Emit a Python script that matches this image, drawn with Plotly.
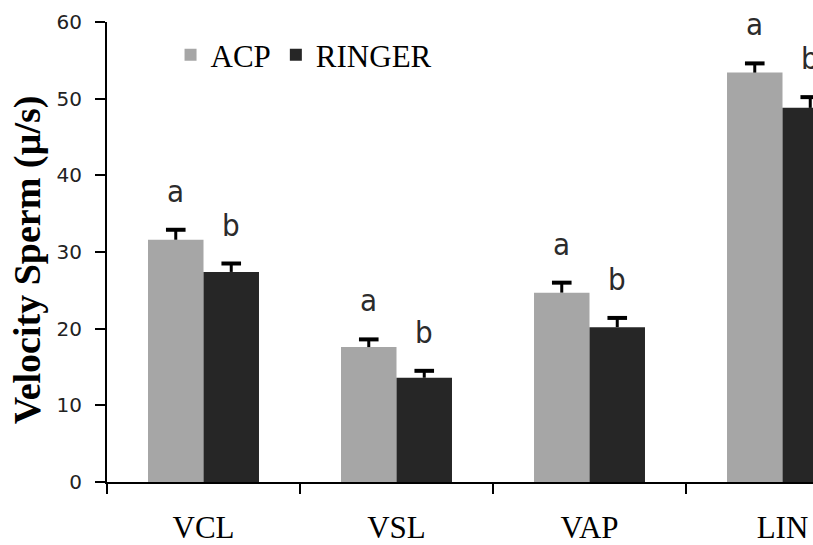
import plotly.graph_objects as go

# Sperm velocity parameters by extender
categories = ["VCL", "VSL", "VAP", "LIN"]
acp_mean = [31.6, 17.6, 24.7, 53.4]
acp_err = [1.3, 1.0, 1.3, 1.2]
ringer_mean = [27.4, 13.6, 20.2, 48.8]
ringer_err = [1.1, 0.9, 1.2, 1.4]
acp_letters = ["a", "a", "a", "a"]
ringer_letters = ["b", "b", "b", "b"]

ACP_COLOR = "#a6a6a6"
RINGER_COLOR = "#262626"
GAP = 0.425

fig = go.Figure()
for name, mean, color in (("ACP", acp_mean, ACP_COLOR),
                          ("RINGER", ringer_mean, RINGER_COLOR)):
    fig.add_trace(go.Bar(name=name, x=categories, y=mean,
                         marker_color=color, marker_line_width=0))

# Upper-only error bars: stem from the bar top, cap drawn as a marker
for mean, err in ((acp_mean, acp_err), (ringer_mean, ringer_err)):
    tops = [m + e for m, e in zip(mean, err)]
    fig.add_trace(go.Scatter(
        x=categories, y=tops, mode="markers", showlegend=False,
        hoverinfo="skip",
        marker=dict(symbol="line-ew", size=14, line=dict(width=4, color="black")),
        error_y=dict(type="data", symmetric=False, array=[0] * len(err),
                     arrayminus=err, color="black", thickness=3, width=0),
    ))

# Significance letters above each error bar
group_width_px = 193.0 * (1 - GAP)
offset = group_width_px / 4
for i, cat in enumerate(categories):
    for mean, err, letters, dx in ((acp_mean, acp_err, acp_letters, -offset),
                                   (ringer_mean, ringer_err, ringer_letters, offset)):
        fig.add_annotation(
            x=i, y=mean[i] + err[i], xref="x", yref="y",
            text=letters[i], showarrow=False, xshift=dx, yshift=39,
            yanchor="middle",
            font=dict(family="DejaVu Sans Condensed", size=31, color="#2b2b2b"),
        )

# Rotated y-axis title
fig.add_annotation(
    text="<b>Velocity Sperm (µ/s)</b>", xref="paper", yref="paper",
    x=0, y=0.482, xshift=-80, xanchor="center", yanchor="middle",
    textangle=-90, showarrow=False,
    font=dict(family="Liberation Serif", size=38, color="black"),
)

fig.update_layout(
    width=813, height=545,
    margin=dict(l=107, r=0, t=22, b=63, pad=0),
    paper_bgcolor="white", plot_bgcolor="white",
    barmode="group", bargap=GAP, bargroupgap=0,
    scattermode="group", scattergap=GAP,
    showlegend=True,
    legend=dict(
        orientation="h", x=0.09, y=0.928, xanchor="left", yanchor="middle",
        font=dict(family="Liberation Serif", size=31, color="black"),
        itemwidth=30, bgcolor="rgba(0,0,0,0)", traceorder="normal",
        itemclick=False,
    ),
    xaxis=dict(
        type="category", range=[-0.5, 3.158],
        showline=True, linecolor="black", linewidth=2,
        ticks="outside", tickson="boundaries", ticklen=10, tickwidth=2,
        tickcolor="black", showgrid=False, zeroline=False,
        tickfont=dict(family="Liberation Serif", size=31, color="black"),
        ticklabelstandoff=17,
    ),
    yaxis=dict(
        range=[0, 60], dtick=10, showline=True, linecolor="black", linewidth=2,
        ticks="outside", ticklen=10, tickwidth=2, tickcolor="black",
        showgrid=False, zeroline=False,
        tickfont=dict(family="DejaVu Sans", size=20, color="#222222"),
        ticklabelstandoff=9,
    ),
)

fig.write_html("out.html")
